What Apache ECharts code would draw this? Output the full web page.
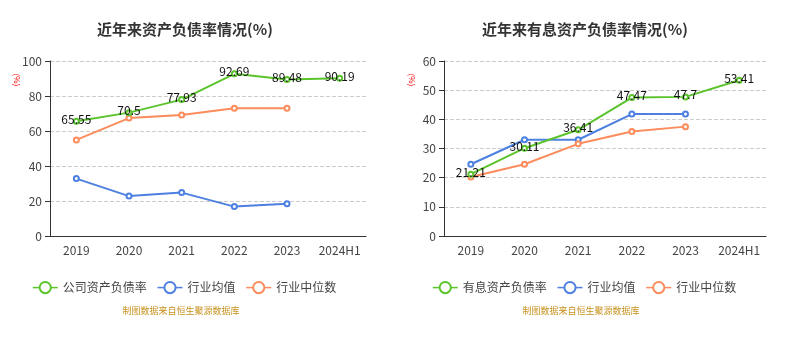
<!DOCTYPE html>
<html><head><meta charset="utf-8">
<script src="https://cdn.jsdelivr.net/npm/echarts@6/dist/echarts.min.js"></script>
<style>html,body{margin:0;padding:0;background:#fff}#c{width:811px;height:337px}</style>
</head><body><div id="c"></div>
<script>
var categories = ['2019','2020','2021','2022','2023','2024H1'];
var leftCompany = [65.55, 70.5, 77.93, 92.69, 89.48, 90.19];
var leftIndAvg = [32.8, 22.8, 24.8, 16.8, 18.4];
var leftIndMed = [54.9, 67.4, 69.1, 73.0, 73.0];
var rightCompany = [21.21, 30.11, 36.41, 47.47, 47.7, 53.41];
var rightIndAvg = [24.6, 33.0, 33.0, 41.8, 41.8];
var rightIndMed = [20.2, 24.6, 31.6, 35.8, 37.5];
var leftTicks = {min:0, max:100, interval:20};
var rightTicks = {min:0, max:60, interval:10};

var GREEN='#5bc42c', BLUE='#4d80e0', ORANGE='#fc8c5c';
var FONT='Noto Sans CJK SC';
var chart = echarts.init(document.getElementById('c'));
function xAxis(gi){return {type:'category',gridIndex:gi,data:categories,boundaryGap:true,
  axisLine:{lineStyle:{color:'#333'}},axisTick:{lineStyle:{color:'#333'}},
  axisLabel:{color:'#444',fontSize:12,margin:8,interval:0,fontFamily:FONT}};}
function yAxis(gi,t){return {type:'value',gridIndex:gi,min:t.min,max:t.max,interval:t.interval,
  axisLine:{show:true,lineStyle:{color:'#333'}},axisTick:{show:true,lineStyle:{color:'#333'}},
  axisLabel:{color:'#444',fontSize:12,margin:8,fontFamily:FONT},
  splitLine:{lineStyle:{type:'dashed',color:'#ccc'}}};}
function line(name,data,color,gi,lbl){return {name:name,type:'line',xAxisIndex:gi,yAxisIndex:gi,data:data,
  symbol:'emptyCircle',symbolSize:5,itemStyle:{color:color},lineStyle:{color:color,width:2},
  label:{show:!!lbl,position:'inside',offset:[0,-2],color:'#111',fontSize:12,fontFamily:FONT},z:lbl?3:2};}
var legendBase={itemWidth:25,itemHeight:14,itemGap:10,textStyle:{color:'#444',fontSize:12,fontFamily:FONT},
  itemStyle:{borderWidth:1},lineStyle:{width:1.5}};
chart.setOption({
  animation:false,
  title:[
    {text:'近年来资产负债率情况(%)',left:180,top:17,textAlign:'center',textStyle:{fontSize:15,fontWeight:'bold',color:'#333',fontFamily:FONT}},
    {text:'近年来有息资产负债率情况(%)',left:580,top:17,textAlign:'center',textStyle:{fontSize:15,fontWeight:'bold',color:'#333',fontFamily:FONT}}
  ],
  grid:[{left:50,top:61,width:316,height:175},{left:444,top:61,width:322,height:175}],
  xAxis:[xAxis(0),xAxis(1)],
  yAxis:[yAxis(0,leftTicks),yAxis(1,rightTicks)],
  legend:[
    Object.assign({left:27,top:276,data:['公司资产负债率','行业均值','行业中位数']},legendBase),
    Object.assign({left:427,top:276,data:['有息资产负债率','行业均值','行业中位数']},legendBase)
  ],
  series:[
    line('公司资产负债率',leftCompany,GREEN,0,true),
    line('行业均值',leftIndAvg,BLUE,0,false),
    line('行业中位数',leftIndMed,ORANGE,0,false),
    line('有息资产负债率',rightCompany,GREEN,1,true),
    line('行业均值',rightIndAvg,BLUE,1,false),
    line('行业中位数',rightIndMed,ORANGE,1,false)
  ],
  graphic:[
    {type:'text',x:181,y:311,style:{text:'制图数据来自恒生聚源数据库',fill:'#c8921e',fontSize:9,fontFamily:FONT,textAlign:'center',textVerticalAlign:'middle'}},
    {type:'text',x:581,y:311,style:{text:'制图数据来自恒生聚源数据库',fill:'#c8921e',fontSize:9,fontFamily:FONT,textAlign:'center',textVerticalAlign:'middle'}},
    {type:'text',x:17,y:80,rotation:-Math.PI/2,style:{text:'(%)',fill:'#f00',fontSize:8,fontFamily:FONT,textAlign:'center',textVerticalAlign:'middle'}},
    {type:'text',x:412,y:80,rotation:-Math.PI/2,style:{text:'(%)',fill:'#f00',fontSize:8,fontFamily:FONT,textAlign:'center',textVerticalAlign:'middle'}}
  ]
});
</script></body></html>
